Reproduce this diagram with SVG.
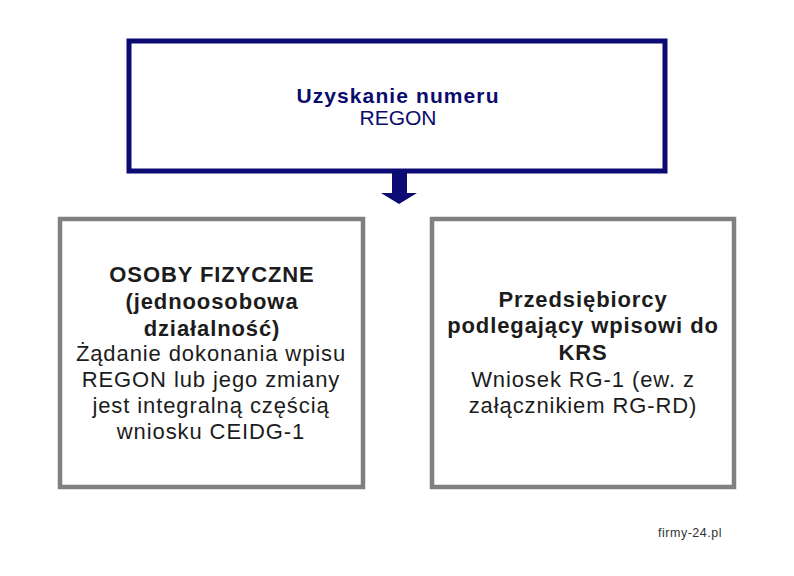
<svg xmlns="http://www.w3.org/2000/svg" width="794" height="576" viewBox="0 0 794 576">
<style>
.top{fill:#ffffff;stroke:#0b0b73;stroke-width:5}
.box{fill:#ffffff;stroke:#808080;stroke-width:4.5}
.t{font-family:"Liberation Sans",Arial,sans-serif;text-anchor:middle}
.nav{fill:#0b0b6e;font-size:21px;letter-spacing:1.1px}
.blk{fill:#1c1c1c;font-size:22px;letter-spacing:0.9px}
.b{font-weight:bold}
</style>
<rect width="794" height="576" fill="#ffffff"/>
<g id="node-top">
<rect class="top" x="129" y="41" width="536" height="130"/>
<text class="t nav b" x="398" y="103">Uzyskanie numeru</text>
<text class="t nav" x="398" y="125" style="letter-spacing:0">REGON</text>
</g>
<g id="connectors">
<path d="M392,172 H407 V193 H417 L399,204 L381,193 H392 Z" fill="#0b0b73"/>
</g>
<g id="node-left">
<rect class="box" x="60" y="219" width="303" height="268"/>
<text class="t blk b" x="212" y="282">OSOBY FIZYCZNE </text>
<text class="t blk b" x="212" y="309">(jednoosobowa</text>
<text class="t blk b" x="212" y="336">działalność)</text>
<text class="t blk" x="211" y="361">Żądanie dokonania wpisu</text>
<text class="t blk" x="211" y="387">REGON lub jego zmiany</text>
<text class="t blk" x="211" y="413">jest integralną częścią</text>
<text class="t blk" x="211" y="439">wniosku CEIDG-1</text>
</g>
<g id="node-right">
<rect class="box" x="432" y="219" width="302" height="268"/>
<text class="t blk b" x="583" y="307">Przedsiębiorcy </text>
<text class="t blk b" x="583" y="333">podlegający wpisowi do</text>
<text class="t blk b" x="583" y="360">KRS</text>
<text class="t blk" x="583" y="387">Wniosek RG-1 (ew. z</text>
<text class="t blk" x="583" y="413">załącznikiem RG-RD)</text>
</g>
<text class="t" x="690" y="537" style="font-size:12.5px;fill:#333333;letter-spacing:0.5px">firmy-24.pl</text>
</svg>
